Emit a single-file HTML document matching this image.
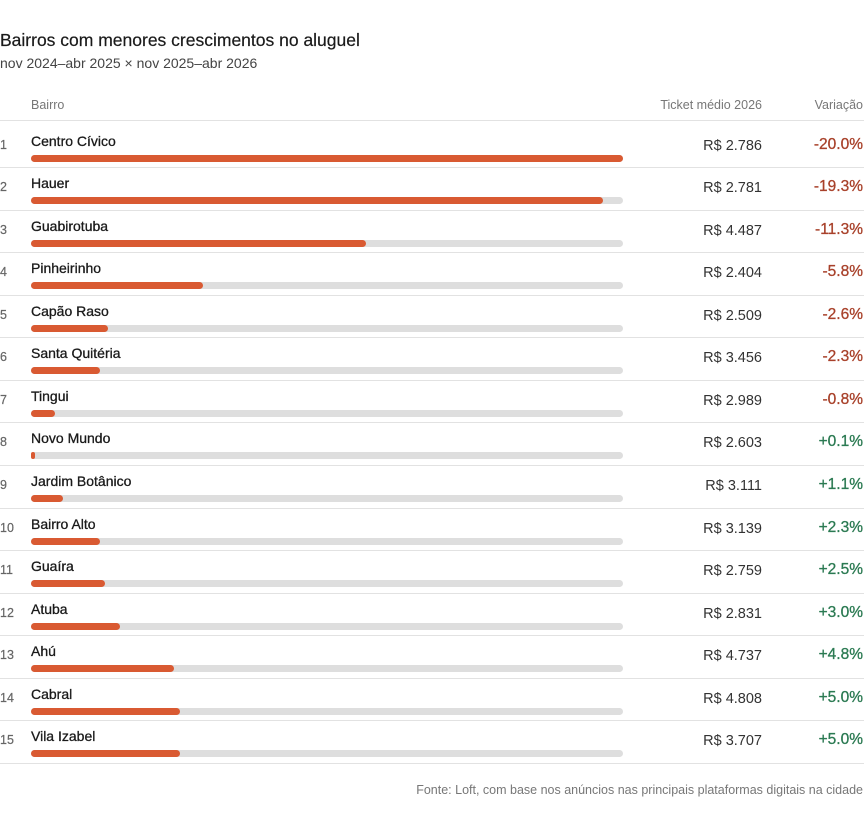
<!DOCTYPE html>
<html><head><meta charset="utf-8"><style>
body{margin:0;background:#fff;font-family:"Liberation Sans",sans-serif;width:864px;height:817px;position:relative;overflow:hidden;color:#1f1f1f}
.a{position:absolute;white-space:nowrap}
.title{left:0;top:30px;font-size:17.5px;color:#1a1a1a;-webkit-text-stroke:0.2px #1a1a1a}
.sub{left:0;top:55px;font-size:14px;color:#444}
.hd{top:98px;font-size:12.5px;color:#777}
.line{position:absolute;left:0;width:864px;height:1px;background:#e2e2e2}
.rank{left:0;font-size:12.5px;color:#666;-webkit-text-stroke:0.2px #666}
.name{left:31px;font-size:14px;color:#1a1a1a;-webkit-text-stroke:0.3px #1a1a1a}
.track{position:absolute;left:31px;width:592px;height:7px;border-radius:4px;background:#dedede}
.bar{position:absolute;left:0;top:0;height:7px;border-radius:4px;background:#d95a32}
.price{right:102px;font-size:14.5px;color:#333;text-align:right}
.var{right:1px;font-size:15.5px;text-align:right;-webkit-text-stroke:0.3px currentColor}
.neg{color:#a8412a}.pos{color:#2b7a52}
.foot{right:1px;top:783px;font-size:12.5px;color:#777}
</style></head><body>
<div class="a title">Bairros com menores crescimentos no aluguel</div>
<div class="a sub">nov 2024–abr 2025 × nov 2025–abr 2026</div>
<div class="a hd" style="left:31px">Bairro</div>
<div class="a hd" style="right:102px">Ticket médio 2026</div>
<div class="a hd" style="right:1px">Variação</div>
<div class="line" style="top:120px"></div>
<div id="rows"></div>
<div class="a foot">Fonte: Loft, com base nos anúncios nas principais plataformas digitais na cidade</div>
<script>
var d=[["Centro Cívico","2.786","-20.0%",592],["Hauer","2.781","-19.3%",572],["Guabirotuba","4.487","-11.3%",335],["Pinheirinho","2.404","-5.8%",172],["Capão Raso","2.509","-2.6%",77],["Santa Quitéria","3.456","-2.3%",69],["Tingui","2.989","-0.8%",24],["Novo Mundo","2.603","+0.1%",4],["Jardim Botânico","3.111","+1.1%",32],["Bairro Alto","3.139","+2.3%",69],["Guaíra","2.759","+2.5%",74],["Atuba","2.831","+3.0%",89],["Ahú","4.737","+4.8%",143],["Cabral","4.808","+5.0%",149],["Vila Izabel","3.707","+5.0%",149]];
var h="";
for(var i=0;i<d.length;i++){
 var t=i==0?125:167+(i-1)*42.57;
 var bot=167+i*42.57;
 h+='<div class="a rank" style="top:'+(t+13)+'px">'+(i+1)+'</div>';
 h+='<div class="a name" style="top:'+(t+8)+'px">'+d[i][0]+'</div>';
 h+='<div class="track" style="top:'+(t+30)+'px"><div class="bar" style="width:'+d[i][3]+'px"></div></div>';
 h+='<div class="a price" style="top:'+(t+13)+'px">R$ '+d[i][1]+'</div>';
 h+='<div class="a var '+(d[i][2][0]=="-"?"neg":"pos")+'" style="top:'+(t+11)+'px">'+d[i][2]+'</div>';
 h+='<div class="line" style="top:'+Math.round(bot)+'px"></div>';
}
document.getElementById("rows").innerHTML=h;
</script>
</body></html>
